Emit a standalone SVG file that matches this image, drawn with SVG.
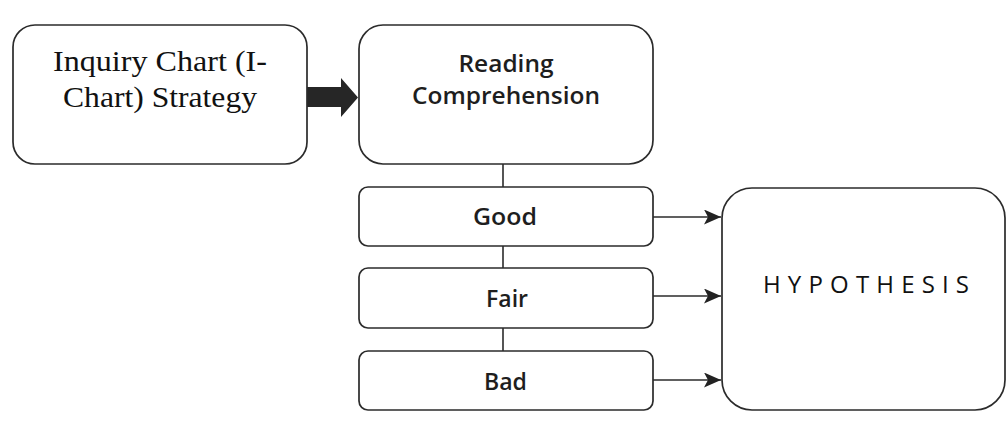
<svg xmlns="http://www.w3.org/2000/svg" width="1007" height="442" viewBox="0 0 1007 442">
<style>
.box{fill:#ffffff;stroke:#2b2b2b;stroke-width:1.7}
.ln{fill:none;stroke:#2b2b2b;stroke-width:1.6}
.serif{font-family:"Liberation Serif","Times New Roman",serif;font-size:30px;fill:#111111}
.sans{font-family:"Open Sans","Liberation Sans",sans-serif;font-size:24px;font-weight:600;fill:#1e1e1e}
.hyp{font-family:"Open Sans","Liberation Sans",sans-serif;font-size:24px;font-weight:400;fill:#111111}
</style>
<defs>
<marker id="ah" markerWidth="17" markerHeight="15" refX="17" refY="7.5" orient="auto" markerUnits="userSpaceOnUse">
<path d="M0,0 L17,7.5 L0,15 L4,7.5 Z" fill="#222222"/>
</marker>
</defs>
<rect width="1007" height="442" fill="#ffffff"/>
<g id="connectors">
<path d="M307,87 H341 V78 L358,97.5 L341,117 V107 H307 Z" fill="#262626"/>
<line class="ln" x1="503" y1="164" x2="503" y2="187"/>
<line class="ln" x1="503" y1="246" x2="503" y2="268"/>
<line class="ln" x1="503" y1="328" x2="503" y2="351"/>
<line class="ln" x1="653" y1="217" x2="721" y2="217" marker-end="url(#ah)"/>
<line class="ln" x1="653" y1="296" x2="721" y2="296" marker-end="url(#ah)"/>
<line class="ln" x1="653" y1="380" x2="721" y2="380" marker-end="url(#ah)"/>
</g>
<g id="ichart">
<rect class="box" x="13" y="25" width="294" height="139" rx="22" ry="22"/>
<text class="serif" x="160" y="71" text-anchor="middle" textLength="214" lengthAdjust="spacingAndGlyphs">Inquiry Chart (I-</text>
<text class="serif" x="160" y="107" text-anchor="middle" textLength="194" lengthAdjust="spacingAndGlyphs">Chart) Strategy</text>
</g>
<g id="reading">
<rect class="box" x="359" y="25" width="294" height="139" rx="24" ry="24"/>
<text class="sans" x="506" y="72" text-anchor="middle" textLength="95" lengthAdjust="spacingAndGlyphs">Reading</text>
<text class="sans" x="506" y="104" text-anchor="middle" textLength="188" lengthAdjust="spacingAndGlyphs">Comprehension</text>
</g>
<g id="good">
<rect class="box" x="359" y="187" width="294" height="59" rx="9" ry="9"/>
<text class="sans" x="505" y="225" text-anchor="middle" textLength="64" lengthAdjust="spacingAndGlyphs">Good</text>
</g>
<g id="fair">
<rect class="box" x="359" y="268" width="294" height="60" rx="9" ry="9"/>
<text class="sans" x="507" y="307" text-anchor="middle" textLength="42" lengthAdjust="spacingAndGlyphs">Fair</text>
</g>
<g id="bad">
<rect class="box" x="359" y="351" width="294" height="59" rx="9" ry="9"/>
<text class="sans" x="505.5" y="390" text-anchor="middle" textLength="43" lengthAdjust="spacingAndGlyphs">Bad</text>
</g>
<g id="hypothesis">
<rect class="box" x="722" y="188" width="283" height="222" rx="30" ry="30"/>
<text class="hyp" x="866" y="293" text-anchor="middle" textLength="206" lengthAdjust="spacing">HYPOTHESIS</text>
</g>
</svg>
